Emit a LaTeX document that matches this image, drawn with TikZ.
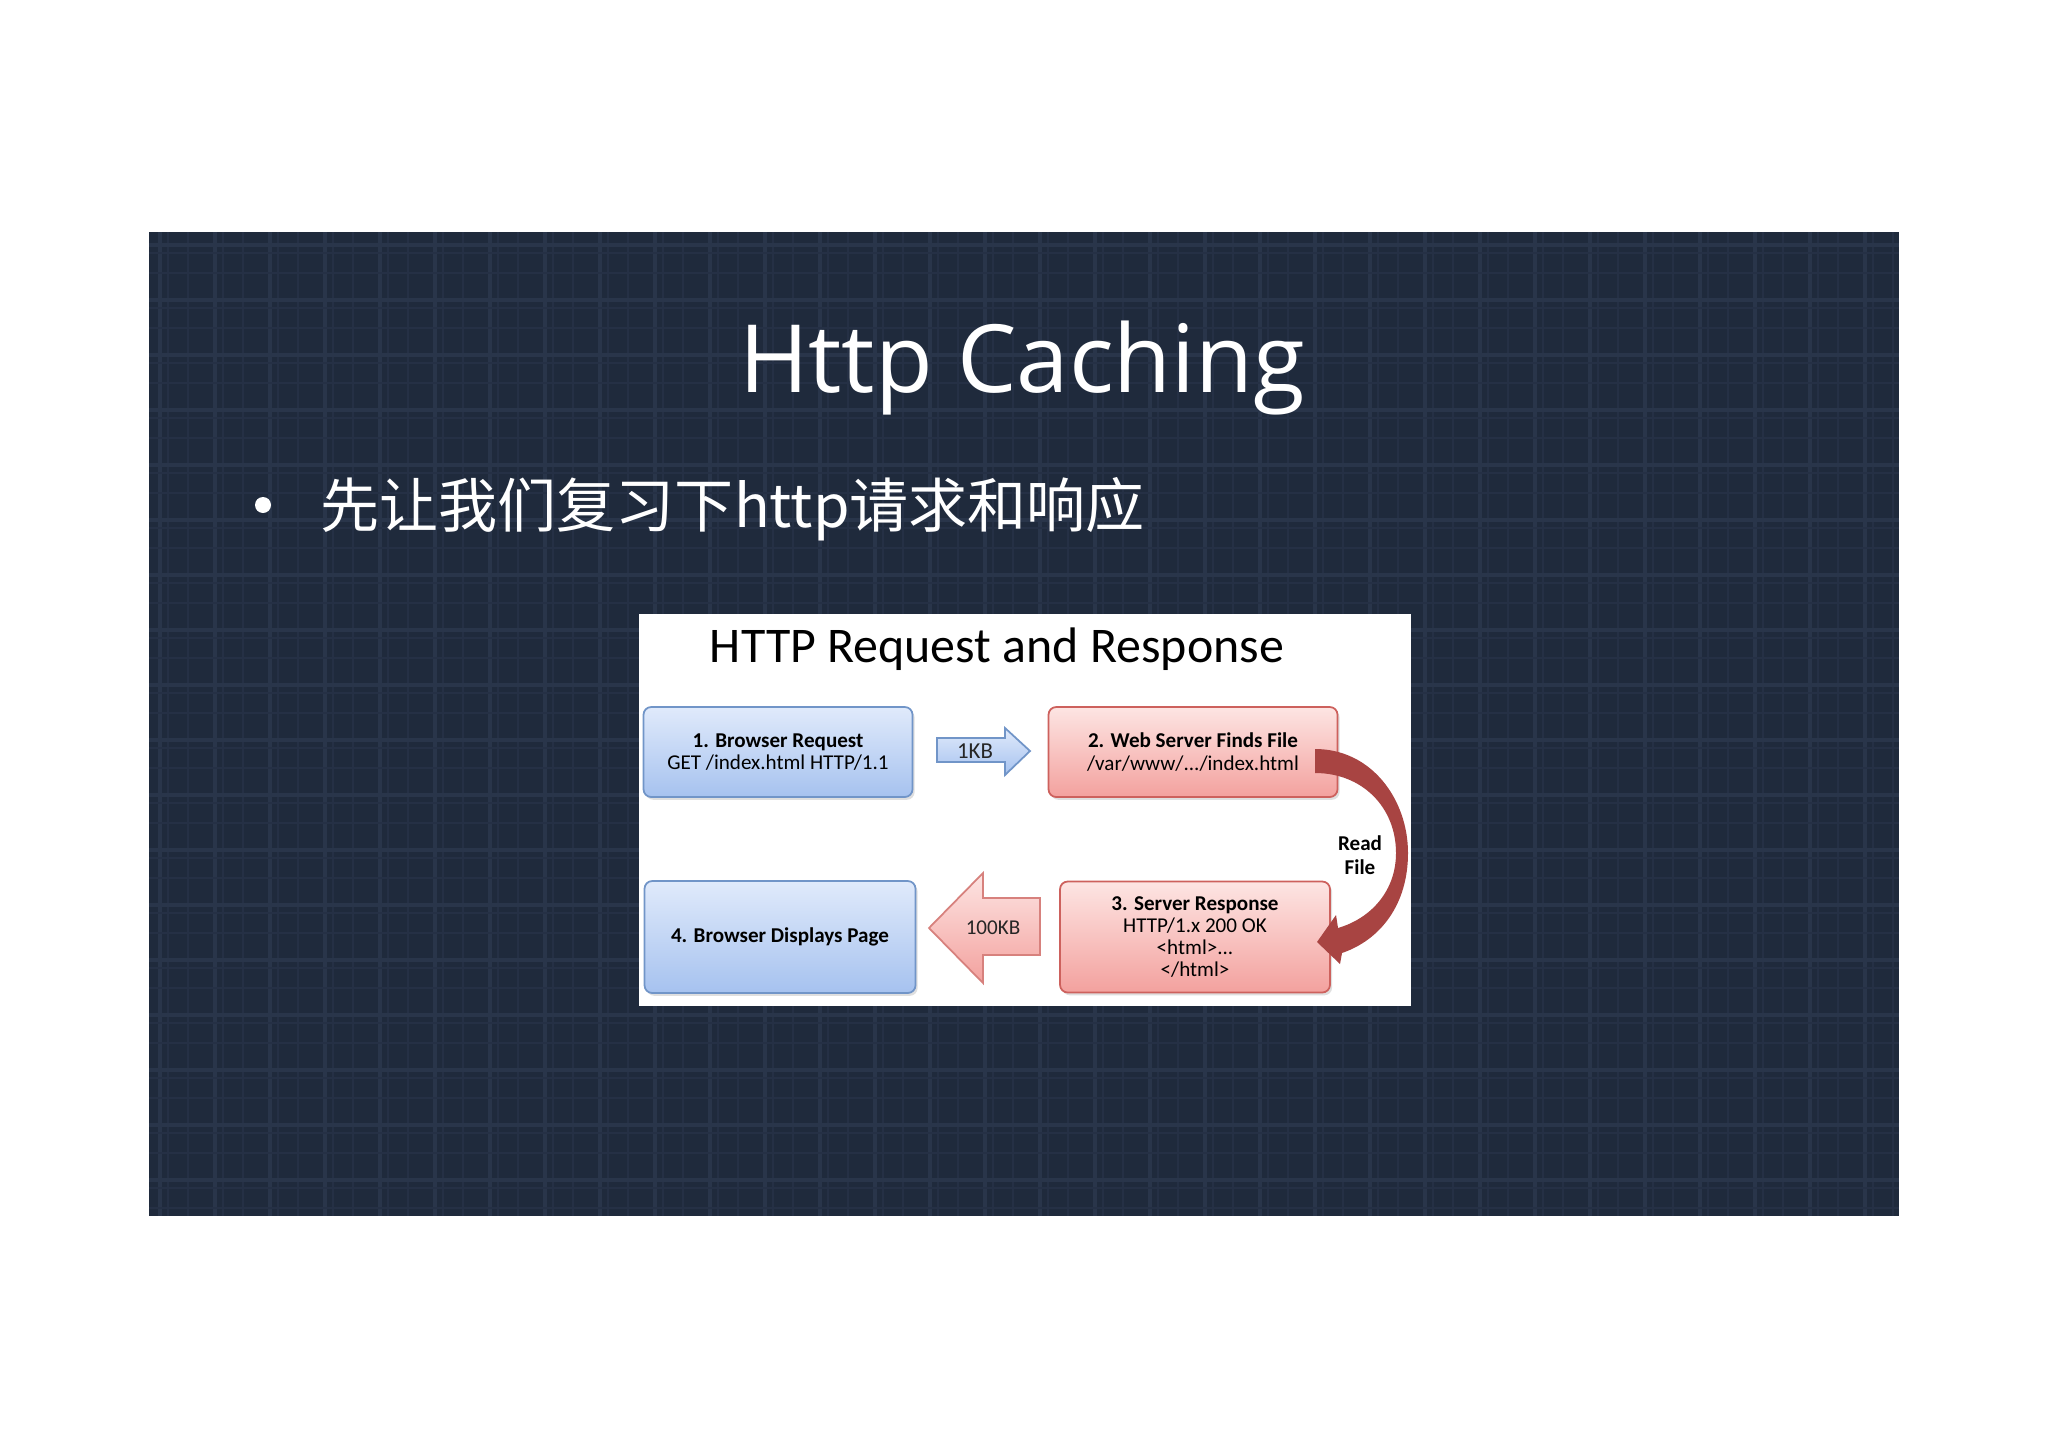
\documentclass[tikz,border=0pt]{standalone}
\usepackage{fontspec}
\setmainfont{Carlito}
\newfontfamily\titlefont{Open Sans}
\newfontfamily\cjk{Noto Sans CJK SC}
\usetikzlibrary{shadows}

\definecolor{slidebg}{HTML}{1F2A3C}
\definecolor{plaidA}{HTML}{29354A}
\definecolor{plaidB}{HTML}{253045}
\definecolor{bluetop}{HTML}{E0EAFB}
\definecolor{bluebot}{HTML}{A6C2EF}
\definecolor{blueline}{HTML}{7195C8}
\definecolor{redtop}{HTML}{FDE5E3}
\definecolor{redbot}{HTML}{F3A19E}
\definecolor{redline}{HTML}{CD615D}
\definecolor{readred}{HTML}{A84442}

\begin{document}
\begin{tikzpicture}[x=0.1mm,y=-0.1mm,
  box/.style={draw,rounded corners=2.2pt,line width=0.5pt,inner sep=0pt,
    align=center,font=\fontsize{6}{6.3}\selectfont,
    drop shadow={opacity=0.25,shadow xshift=0.6pt,shadow yshift=-0.8pt}},
  bluebox/.style={box,draw=blueline,top color=bluetop,bottom color=bluebot},
  redbox/.style={box,draw=redline,top color=redtop,bottom color=redbot},
  thickplaid/.style={plaidA,line width=0.9pt},
  thinplaid/.style={plaidB,line width=0.45pt}]
\useasboundingbox (0,0) rectangle (2048,1448);

% slide background
\fill[slidebg] (149,232) rectangle (1899,1216);
\begin{scope}
\clip (149,232) rectangle (1899,1216);
\foreach \i in {0,...,32} {
  \draw[thickplaid] ({160+55*\i},232) -- ++(0,984);
  \draw[thinplaid] ({168+55*\i},232) -- ++(0,984);
  \draw[thinplaid] ({188+55*\i},232) -- ++(0,984);
}
\foreach \j in {0,...,18} {
  \draw[thickplaid] (149,{245+55*\j}) -- ++(1750,0);
  \draw[thinplaid] (149,{253+55*\j}) -- ++(1750,0);
  \draw[thinplaid] (149,{273+55*\j}) -- ++(1750,0);
}
\end{scope}

% slide texts
\node (title) at (1022,392) [anchor=base,text=white,font=\titlefont\fontsize{26.8}{30}\selectfont] {Http Caching};
\node (dot) at (263,505) [circle,fill=white,inner sep=0pt,minimum size=1.6mm] {};
\node (point) at (320,527) [anchor=base west,text=white,inner sep=0pt,font=\cjk\fontsize{16.8}{20}\selectfont] {先让我们复习下http请求和响应};

% picture on the slide
\fill[white] (639,614) rectangle (1411,1006);
\node (caption) at (997,662) [anchor=base,font=\fontsize{14.2}{16}\selectfont] {HTTP Request and Response};

\node (req) at (778,752) [bluebox,minimum width=26.9mm,minimum height=9mm] {\textbf{1. Browser Request}\\GET /index.html HTTP/1.1};
\node (finds) at (1193,752) [redbox,minimum width=28.9mm,minimum height=9mm] {\textbf{2. Web Server Finds File}\\/var/www/.../index.html};
\node (resp) at (1195,937) [redbox,minimum width=27mm,minimum height=11.1mm] {\textbf{3. Server Response}\\HTTP/1.x 200 OK\\<html>...\\</html>};
\node (disp) at (780,937) [bluebox,minimum width=27.1mm,minimum height=11.2mm] {\textbf{4. Browser Displays Page}};

% 1KB arrow
\draw[blueline,line width=0.5pt,top color=bluetop,bottom color=bluebot]
  (937,738) -- (1005,738) -- (1005,728) -- (1030,751) -- (1005,775) -- (1005,762) -- (937,762) -- cycle;
\node (kb1) at (975,751) [font=\fontsize{6.5}{7}\selectfont,text=black!85] {1KB};

% 100KB arrow
\draw[redline!80,line width=0.5pt,top color=redtop,bottom color=redbot]
  (1040,898) -- (983,898) -- (983,873) -- (929,928) -- (983,983) -- (983,955) -- (1040,955) -- cycle;
\node (kb100) at (993,928) [font=\fontsize{6}{7}\selectfont,text=black!85] {100KB};

% read file arrow
\fill[readred] (1315,749) .. controls (1372,749) and (1408,800) .. (1408,853)
  .. controls (1408,905) and (1380,940) .. (1342,953) -- (1340,964) -- (1317,942)
  -- (1336,915) -- (1338,928) .. controls (1372,918) and (1396,890) .. (1396,853)
  .. controls (1396,807) and (1362,773) .. (1315,773) -- cycle;
\node (read) at (1360,855) [align=center,font=\bfseries\fontsize{6}{6.8}\selectfont] {Read\\File};
\end{tikzpicture}
\end{document}
